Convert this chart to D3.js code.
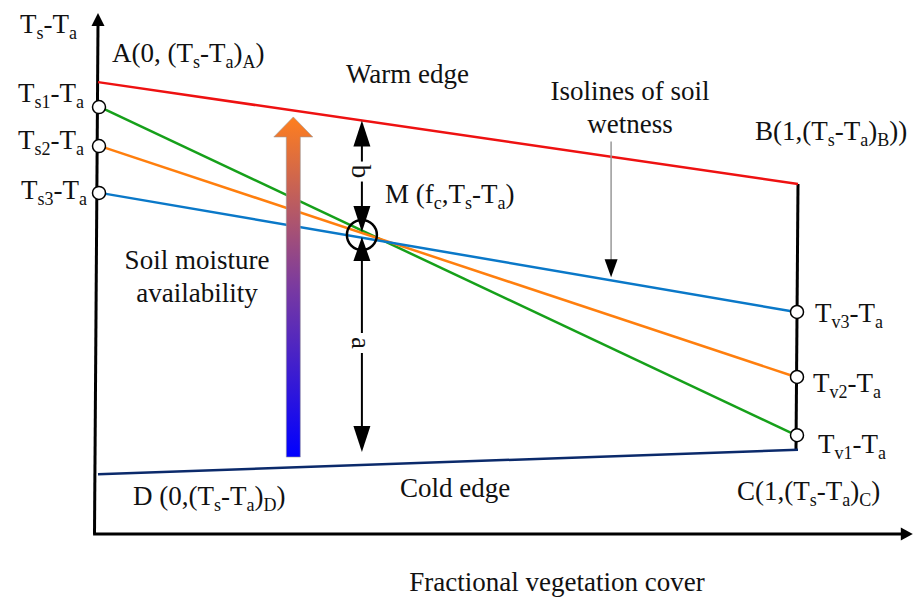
<!DOCTYPE html>
<html>
<head>
<meta charset="utf-8">
<script src="https://cdn.jsdelivr.net/npm/d3@7"></script>
<style>
html,body{margin:0;padding:0;background:#fff;}
svg text{font-family:"Liberation Serif","Times New Roman",serif;fill:#111;}
</style>
</head>
<body>
<svg id="chart" width="914" height="597"></svg>
<script>
// ---- data (fractional vegetation cover fc in [0,1], Ts-Ta in arbitrary units) ----
const fcDomain = [0, 1];
const tsDomain = [0, 100];
const axisMaxFc = 1.164;
const axisMaxTs = 100;
const warmEdge = [{fc: 0, v: 86.9}, {fc: 1, v: 67.3}];
const coldEdge = [{fc: 0, v: 11.5}, {fc: 1, v: 16.2}];
const isoNames = ["1", "2", "3"];
const isoStart = [82.1, 74.6, 65.6];   // Ts1-Ta, Ts2-Ta, Ts3-Ta at fc = 0
const isoEnd = [19.0, 30.2, 42.7];     // Tv1-Ta, Tv2-Ta, Tv3-Ta at fc = 1
const isoColors = ["#16a01a", "#ff7f0e", "#0a78c8"];
const pointM = {fc: 0.377, v: 57.5};
const moistureArrow = {fc: 0.279, from: 14.8, to: 80.2};
const isolineArrow = {fc: 0.733, from: 75.5};

// ---- scales ----
const x = d3.scaleLinear().domain(fcDomain).range([98, 798]);
const y = d3.scaleLinear().domain(tsDomain).range([534, 14]);

const svg = d3.select("#chart");
const FS = 27, SUB = 18, SHIFT = 6;

function rich(x0, y0, parts, anchor, size) {
  const fs = size || FS;
  const t = svg.append("text").attr("x", x0).attr("y", y0)
    .attr("font-size", fs).attr("text-anchor", anchor || "start");
  let shifted = false;
  parts.forEach(p => {
    if (typeof p === "string") {
      const s = t.append("tspan").text(p);
      if (shifted) { s.attr("dy", -SHIFT); shifted = false; }
    } else {
      const s = t.append("tspan").text(p.sub).attr("font-size", SUB);
      if (!shifted) { s.attr("dy", SHIFT); shifted = true; }
    }
  });
  return t;
}

function tri(cx, tipY, baseY, w, fill, stroke) {
  svg.append("path")
    .attr("d", `M${cx},${tipY}L${cx - w / 2},${baseY}L${cx + w / 2},${baseY}Z`)
    .attr("fill", fill || "#000").attr("stroke", stroke || "none");
}

// ---- axes ----
svg.append("line").attr("x1", x(-0.005)).attr("y1", y(0)).attr("x2", x(0)).attr("y2", y(axisMaxTs) + 10)
  .attr("stroke", "#000").attr("stroke-width", 3);
tri(x(0), y(axisMaxTs) - 1, y(axisMaxTs) + 12, 13);
svg.append("line").attr("x1", x(-0.007)).attr("y1", y(0)).attr("x2", x(axisMaxFc) - 10).attr("y2", y(0))
  .attr("stroke", "#000").attr("stroke-width", 3);
svg.append("path")
  .attr("d", `M${x(axisMaxFc)},${y(0)}L${x(axisMaxFc) - 12},${y(0) - 6.5}L${x(axisMaxFc) - 12},${y(0) + 6.5}Z`)
  .attr("fill", "#000");

// ---- right boundary (fc = 1) ----
svg.append("line").attr("x1", x(1)).attr("y1", y(warmEdge[1].v)).attr("x2", x(1) - 2).attr("y2", y(coldEdge[1].v))
  .attr("stroke", "#000").attr("stroke-width", 3);

// ---- edges ----
const line = d3.line().x(d => x(d.fc)).y(d => y(d.v));
svg.append("path").datum(warmEdge).attr("d", line).attr("fill", "none")
  .attr("stroke", "#ee1111").attr("stroke-width", 2.5);
svg.append("path").datum(coldEdge).attr("d", line).attr("fill", "none")
  .attr("stroke", "#0b2a6b").attr("stroke-width", 2.5);

// ---- isolines ----
isoNames.forEach((n, i) => {
  svg.append("path").datum([{fc: 0.003, v: isoStart[i]}, {fc: 0.997, v: isoEnd[i]}])
    .attr("d", line).attr("fill", "none").attr("stroke", isoColors[i]).attr("stroke-width", 2.5);
});

// ---- moisture gradient arrow ----
const defs = svg.append("defs");
const grad = defs.append("linearGradient").attr("id", "moist")
  .attr("gradientUnits", "userSpaceOnUse")
  .attr("x1", 0).attr("x2", 0).attr("y1", y(moistureArrow.from)).attr("y2", y(moistureArrow.to));
grad.append("stop").attr("offset", "0%").attr("stop-color", "#0000ff");
grad.append("stop").attr("offset", "50%").attr("stop-color", "#7a3aa0");
grad.append("stop").attr("offset", "100%").attr("stop-color", "#ff7f1e");
{
  const cx = x(moistureArrow.fc), yb = y(moistureArrow.from), yt = y(moistureArrow.to);
  const hb = yt + 20, sw = 7, hw = 19.5;
  svg.append("path")
    .attr("d", `M${cx - sw},${yb}L${cx - sw},${hb}L${cx - hw},${hb}L${cx},${yt}L${cx + hw},${hb}L${cx + sw},${hb}L${cx + sw},${yb}Z`)
    .attr("fill", "url(#moist)").attr("stroke", "#9a9a9a").attr("stroke-width", 0.6);
}

// ---- a / b double arrows ----
{
  const cx = x(pointM.fc), my = y(pointM.v);
  const topY = y(warmEdge[0].v + (warmEdge[1].v - warmEdge[0].v) * pointM.fc);
  const botTip = my + 217;
  svg.append("line").attr("x1", cx).attr("x2", cx).attr("y1", topY + 10).attr("y2", my - 10)
    .attr("stroke", "#000").attr("stroke-width", 2);
  svg.append("line").attr("x1", cx).attr("x2", cx).attr("y1", my + 10).attr("y2", botTip - 10)
    .attr("stroke", "#000").attr("stroke-width", 2);
  tri(cx, topY, topY + 26, 17);
  tri(cx, my - 3, my - 29, 17);
  tri(cx, my + 2, my + 26, 17);
  tri(cx, botTip, botTip - 26, 17);
  svg.append("circle").attr("cx", cx).attr("cy", my).attr("r", 15)
    .attr("fill", "none").attr("stroke", "#000").attr("stroke-width", 2.5);
  // labels b and a with white background
  [["b", topY + 51], ["a", my + 108]].forEach(([s, ly]) => {
    svg.append("rect").attr("x", cx - 8).attr("y", ly - 10).attr("width", 16).attr("height", 20).attr("fill", "#fff");
    svg.append("text").attr("transform", `translate(${cx},${ly}) rotate(90)`)
      .attr("text-anchor", "middle").attr("dy", "0.35em").attr("font-size", FS).text(s);
  });
}

// ---- isoline pointer ----
{
  const cx = x(isolineArrow.fc);
  const tipV = isoStart[2] + (isoEnd[2] - isoStart[2]) * isolineArrow.fc;
  const tip = y(tipV) - 3;
  svg.append("line").attr("x1", cx).attr("x2", cx).attr("y1", y(isolineArrow.from)).attr("y2", tip - 14)
    .attr("stroke", "#999").attr("stroke-width", 1.5);
  tri(cx, tip, tip - 18, 13);
}

// ---- circles ----
isoNames.forEach((n, i) => {
  svg.append("circle").attr("cx", x(0) + 1).attr("cy", y(isoStart[i])).attr("r", 6.5)
    .attr("fill", "#fff").attr("stroke", "#000").attr("stroke-width", 1.5);
  svg.append("circle").attr("cx", x(1) - 1).attr("cy", y(isoEnd[i])).attr("r", 6.5)
    .attr("fill", "#fff").attr("stroke", "#000").attr("stroke-width", 1.5);
});

// ---- text ----
rich(20, 33, ["T", {sub: "s"}, "-T", {sub: "a"}]);
rich(112, 62, ["A(0, (T", {sub: "s"}, "-T", {sub: "a"}, ")", {sub: "A"}, ")"]);
const leftBase = [102, 149, 199];
const leftEnd = [84, 84, 87];
isoNames.forEach((n, i) => rich(leftEnd[i], leftBase[i], ["T", {sub: "s" + n}, "-T", {sub: "a"}], "end"));
const rightBase = [453, 392, 322];
const rightStart = [818, 813, 815];
isoNames.forEach((n, i) => rich(rightStart[i], rightBase[i], ["T", {sub: "v" + n}, "-T", {sub: "a"}]));
rich(346, 83, ["Warm edge"]);
rich(630, 100, ["Isolines of soil"], "middle");
rich(630, 133, ["wetness"], "middle");
rich(755, 140, ["B(1,(T", {sub: "s"}, "-T", {sub: "a"}, ")", {sub: "B"}, "))"]);
rich(385, 203, ["M (f", {sub: "c"}, ",T", {sub: "s"}, "-T", {sub: "a"}, ")"]);
rich(197, 269, ["Soil moisture"], "middle");
rich(197, 302, ["availability"], "middle");
rich(133, 505, ["D (0,(T", {sub: "s"}, "-T", {sub: "a"}, ")", {sub: "D"}, ")"]);
rich(400, 497, ["Cold edge"]);
rich(737, 500, ["C(1,(T", {sub: "s"}, "-T", {sub: "a"}, ")", {sub: "C"}, ")"]);
rich(557, 591, ["Fractional vegetation cover"], "middle");
</script>
</body>
</html>
